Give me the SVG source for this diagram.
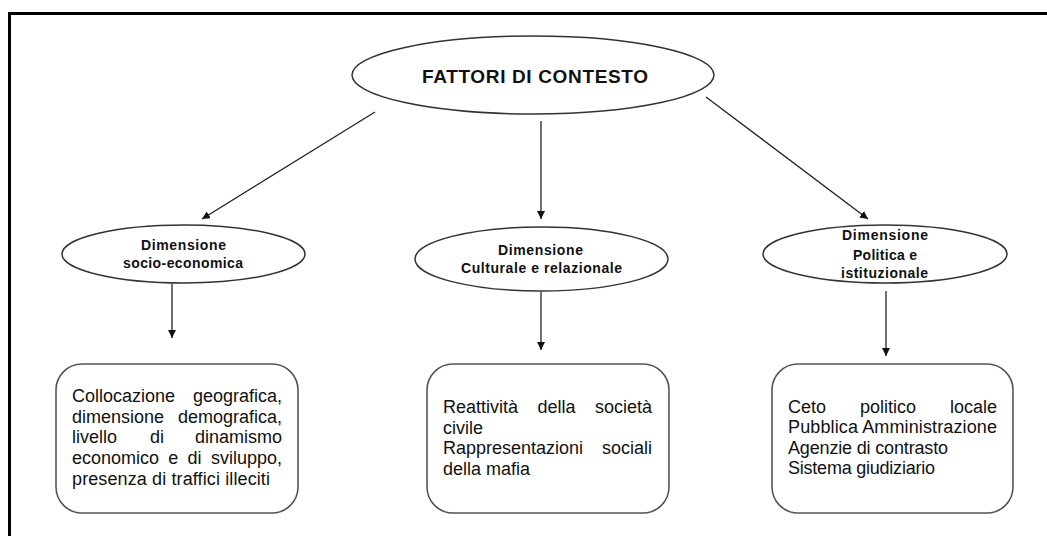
<svg xmlns="http://www.w3.org/2000/svg" width="1047" height="536" viewBox="0 0 1047 536">
<defs>
<marker id="ah" viewBox="0 0 10 10" refX="10" refY="5" markerWidth="8" markerHeight="8" markerUnits="userSpaceOnUse" orient="auto">
<path d="M0,0 L10,5 L0,10 z" fill="#111"/>
</marker>
<style>
.ell{fill:#fff;stroke:#333;stroke-width:1.5}
.box{fill:#fff;stroke:#555;stroke-width:1.6}
.con{stroke:#222;stroke-width:1.3;fill:none;marker-end:url(#ah)}
.t{font-family:"Liberation Sans",Arial,sans-serif;font-weight:bold;fill:#111}
.b{font-family:"Liberation Sans",Arial,sans-serif;font-size:18px;fill:#111}
</style>
</defs>
<rect width="1047" height="536" fill="#fff"/>
<path d="M9.5,536 V13.5 H1047" fill="none" stroke="#000" stroke-width="3"/>

<g id="connectors">
<line class="con" x1="375" y1="112" x2="202" y2="219"/>
<line class="con" x1="541" y1="121" x2="541" y2="219"/>
<line class="con" x1="706" y1="97" x2="868" y2="219"/>
<line class="con" x1="172" y1="284" x2="172" y2="338"/>
<line class="con" x1="541" y1="292" x2="541" y2="350"/>
<line class="con" x1="886" y1="291" x2="886" y2="356"/>
</g>

<g id="n-main">
<ellipse class="ell" cx="533" cy="75" rx="181" ry="39"/>
<text class="t" x="535" y="83" font-size="19" text-anchor="middle" textLength="226">FATTORI DI CONTESTO</text>
</g>

<g id="n-socio">
<ellipse class="ell" cx="183.5" cy="254" rx="121.5" ry="29"/>
<text class="t" x="183.5" y="250" font-size="14" text-anchor="middle" textLength="85">Dimensione</text>
<text class="t" x="183" y="268" font-size="14" text-anchor="middle" textLength="120">socio-economica</text>
</g>

<g id="n-cult">
<ellipse class="ell" cx="541.5" cy="259" rx="126.5" ry="32"/>
<text class="t" x="540.5" y="255" font-size="14" text-anchor="middle" textLength="85">Dimensione</text>
<text class="t" x="541.5" y="273" font-size="14" text-anchor="middle" textLength="161">Culturale e relazionale</text>
</g>

<g id="n-pol">
<ellipse class="ell" cx="885" cy="254" rx="122" ry="29"/>
<text class="t" x="885" y="240" font-size="14" text-anchor="middle" textLength="86">Dimensione</text>
<text class="t" x="885" y="260" font-size="14" text-anchor="middle" textLength="64">Politica e</text>
<text class="t" x="884.5" y="278" font-size="14" text-anchor="middle" textLength="87">istituzionale</text>
</g>

<g id="box-socio">
<rect class="box" x="56" y="364" width="242" height="149" rx="26"/>
<text class="b" x="72" y="402">Collocazione</text>
<text class="b" x="282" y="402" text-anchor="end">geografica,</text>
<text class="b" x="72" y="422.7">dimensione</text>
<text class="b" x="282" y="422.7" text-anchor="end">demografica,</text>
<text class="b" x="72" y="443.4">livello</text>
<text class="b" x="150" y="443.4">di</text>
<text class="b" x="282" y="443.4" text-anchor="end">dinamismo</text>
<text class="b" x="72" y="464.1">economico</text>
<text class="b" x="168.3" y="464.1">e</text>
<text class="b" x="187.6" y="464.1">di</text>
<text class="b" x="282" y="464.1" text-anchor="end">sviluppo,</text>
<text class="b" x="72" y="484.8" textLength="198">presenza di traffici illeciti</text>
</g>

<g id="box-cult">
<rect class="box" x="427" y="364" width="242" height="149" rx="26"/>
<text class="b" x="443" y="413">Reattività</text>
<text class="b" x="537.5" y="413">della</text>
<text class="b" x="652" y="413" text-anchor="end">società</text>
<text class="b" x="443" y="433.7">civile</text>
<text class="b" x="443" y="454.4">Rappresentazioni</text>
<text class="b" x="652" y="454.4" text-anchor="end">sociali</text>
<text class="b" x="443" y="475.1">della mafia</text>
</g>

<g id="box-pol">
<rect class="box" x="772" y="364" width="241" height="149" rx="26"/>
<text class="b" x="788" y="413">Ceto</text>
<text class="b" x="860" y="413">politico</text>
<text class="b" x="997" y="413" text-anchor="end">locale</text>
<text class="b" x="788" y="433.3" textLength="209">Pubblica Amministrazione</text>
<text class="b" x="788" y="453.6" textLength="160">Agenzie di contrasto</text>
<text class="b" x="788" y="474" textLength="147">Sistema giudiziario</text>
</g>
</svg>
